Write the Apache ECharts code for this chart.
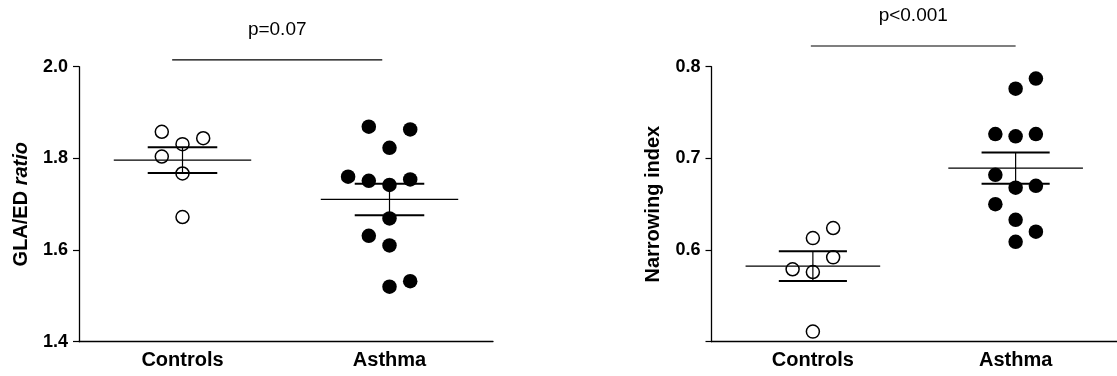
<!DOCTYPE html>
<html>
<head>
<meta charset="utf-8">
<script src="https://cdn.jsdelivr.net/npm/echarts@6/dist/echarts.min.js"></script>
<style>
  html, body { margin: 0; padding: 0; background: #fff; }
  #main { width: 1117px; height: 376px; }
</style>
</head>
<body>
<div id="main"></div>
<script>
// categories on the x axis
var categories = ['Controls', 'Asthma'];

// GLA/ED ratio (left panel)
var glaControls = [1.858, 1.844, 1.831, 1.804, 1.767, 1.672];
var glaControlsCol = [-1, 1, 0, -1, 0, 0];
var glaAsthma = [1.869, 1.863, 1.823, 1.760, 1.751, 1.742, 1.754, 1.669, 1.631, 1.610, 1.520, 1.532];
var glaAsthmaCol = [-1, 1, 0, -2, -1, 0, 1, 0, -1, 0, 0, 1];
var glaTicks = [1.4, 1.6, 1.8, 2.0];

// Narrowing index (right panel)
var niControls = [0.613, 0.624, 0.592, 0.579, 0.576, 0.511];
var niControlsCol = [0, 1, 1, -1, 0, 0];
var niAsthma = [0.787, 0.776, 0.7265, 0.724, 0.7265, 0.682, 0.668, 0.670, 0.650, 0.633, 0.609, 0.620];
var niAsthmaCol = [1, 0, -1, 0, 1, -1, 0, 1, -1, 0, 0, 1];
var niTicks = [0.5, 0.6, 0.7, 0.8];

// significance annotations
var pLabels = ['p=0.07', 'p<0.001'];
var pLevels = [2.015, 0.8226];
var pSpans = [[0.45, 1.465], [0.49, 1.50]];

var FONT = 'Liberation Sans, Arial, sans-serif';
var JIT = 0.1;

function mean(a) {
    var s = 0;
    for (var i = 0; i < a.length; i++) s += a[i];
    return s / a.length;
}
function sem(a) {
    var m = mean(a), s = 0;
    for (var i = 0; i < a.length; i++) s += (a[i] - m) * (a[i] - m);
    return Math.sqrt(s / (a.length - 1)) / Math.sqrt(a.length);
}
function pts(vals, cols, center) {
    var out = [];
    for (var i = 0; i < vals.length; i++) out.push([center + cols[i] * JIT, vals[i]]);
    return out;
}

var dom = document.getElementById('main');
var myChart = echarts.init(dom);

var grids = [
    { left: 79, top: 66.7, width: 414, height: 275 },
    { left: 711.5, top: 66.7, width: 414, height: 275 }
];

var xAxes = [];
var yAxes = [];
var series = [];

var panels = [
    { name: '{b|GLA/ED }{i|ratio}', ticks: glaTicks, ctrl: glaControls, ctrlCol: glaControlsCol, ast: glaAsthma, astCol: glaAsthmaCol, hideFirst: false },
    { name: '{b|Narrowing index}', ticks: niTicks, ctrl: niControls, ctrlCol: niControlsCol, ast: niAsthma, astCol: niAsthmaCol, hideFirst: true }
];

panels.forEach(function(p, g) {
    // visible category axis
    xAxes.push({
        type: 'category',
        gridIndex: g,
        data: categories,
        boundaryGap: true,
        axisLine: { lineStyle: { color: '#000', width: 1.3 } },
        axisTick: { alignWithLabel: true, length: 6, lineStyle: { color: '#000', width: 1.2 } },
        axisLabel: { color: '#000', fontFamily: FONT, fontWeight: 'bold', fontSize: 20, margin: 9 }
    });
    // hidden value axis used to place the jittered points
    xAxes.push({
        type: 'value',
        gridIndex: g,
        min: 0,
        max: 2,
        show: false
    });
    var lo = p.ticks[0], hi = p.ticks[p.ticks.length - 1];
    yAxes.push({
        type: 'value',
        gridIndex: g,
        min: lo,
        max: hi,
        interval: p.ticks[1] - p.ticks[0],
        name: p.name,
        nameLocation: 'middle',
        nameRotate: 90,
        nameGap: 48,
        nameTextStyle: {
            rich: {
                b: { fontFamily: FONT, fontWeight: 'bold', fontSize: 20, color: '#000' },
                i: { fontFamily: FONT, fontWeight: 'bold', fontStyle: 'italic', fontSize: 20, color: '#000' }
            }
        },
        splitLine: { show: false },
        axisLine: { show: true, lineStyle: { color: '#000', width: 1.3 } },
        axisTick: { show: true, length: 6, lineStyle: { color: '#000', width: 1.2 } },
        axisLabel: {
            color: '#000', fontFamily: FONT, fontWeight: 'bold', fontSize: 18, margin: 11,
            formatter: function(v) {
                if (p.hideFirst && Math.abs(v - lo) < 1e-9) return '';
                return v.toFixed(1);
            }
        }
    });

    var xi = g * 2 + 1;
    series.push({
        type: 'scatter',
        xAxisIndex: xi, yAxisIndex: g,
        symbol: 'circle', symbolSize: 13,
        itemStyle: { color: '#fff', borderColor: '#000', borderWidth: 1.5, opacity: 1 },
        data: pts(p.ctrl, p.ctrlCol, 0.5),
        z: 2
    });
    series.push({
        type: 'scatter',
        xAxisIndex: xi, yAxisIndex: g,
        symbol: 'circle', symbolSize: 14.5,
        itemStyle: { color: '#000', opacity: 1 },
        data: pts(p.ast, p.astCol, 1.5),
        z: 2
    });
    // mean +/- SEM
    series.push({
        type: 'custom',
        xAxisIndex: xi, yAxisIndex: g,
        z: 3,
        data: [[0.5, mean(p.ctrl), sem(p.ctrl)], [1.5, mean(p.ast), sem(p.ast)]],
        renderItem: function(params, api) {
            var c = api.value(0), m = api.value(1), s = api.value(2);
            var a = api.coord([c - 0.332, m]);
            var b = api.coord([c + 0.332, m]);
            var top = api.coord([c, m + s]);
            var bot = api.coord([c, m - s]);
            var w = api.size([0.168, 0])[0];
            return {
                type: 'group',
                children: [
                    { type: 'line', shape: { x1: a[0], y1: a[1], x2: b[0], y2: b[1] }, style: { stroke: '#000', lineWidth: 1.3 } },
                    { type: 'line', shape: { x1: top[0] - w, y1: top[1], x2: top[0] + w, y2: top[1] }, style: { stroke: '#000', lineWidth: 2 } },
                    { type: 'line', shape: { x1: bot[0] - w, y1: bot[1], x2: bot[0] + w, y2: bot[1] }, style: { stroke: '#000', lineWidth: 2 } },
                    { type: 'line', shape: { x1: top[0], y1: top[1], x2: bot[0], y2: bot[1] }, style: { stroke: '#000', lineWidth: 1.2 } }
                ]
            };
        }
    });
    // significance bar with p value
    var sp = pSpans[g], lv = pLevels[g];
    series.push({
        type: 'line',
        xAxisIndex: xi, yAxisIndex: g,
        clip: false,
        symbol: 'circle',
        symbolSize: 0,
        showSymbol: true,
        lineStyle: { color: '#000', width: 1.2 },
        itemStyle: { color: '#000' },
        label: { show: false },
        data: [
            [sp[0], lv],
            {
                value: [(sp[0] + sp[1]) / 2, lv],
                label: { show: true, position: 'top', distance: 21, formatter: pLabels[g], color: '#000', fontFamily: FONT, fontSize: 19 }
            },
            [sp[1], lv]
        ],
        z: 4
    });
});

var option = {
    animation: false,
    backgroundColor: '#fff',
    grid: grids,
    xAxis: xAxes,
    yAxis: yAxes,
    series: series
};

myChart.setOption(option, true);
window.onresize = function() {
    myChart.resize();
};
</script>
</body>
</html>
